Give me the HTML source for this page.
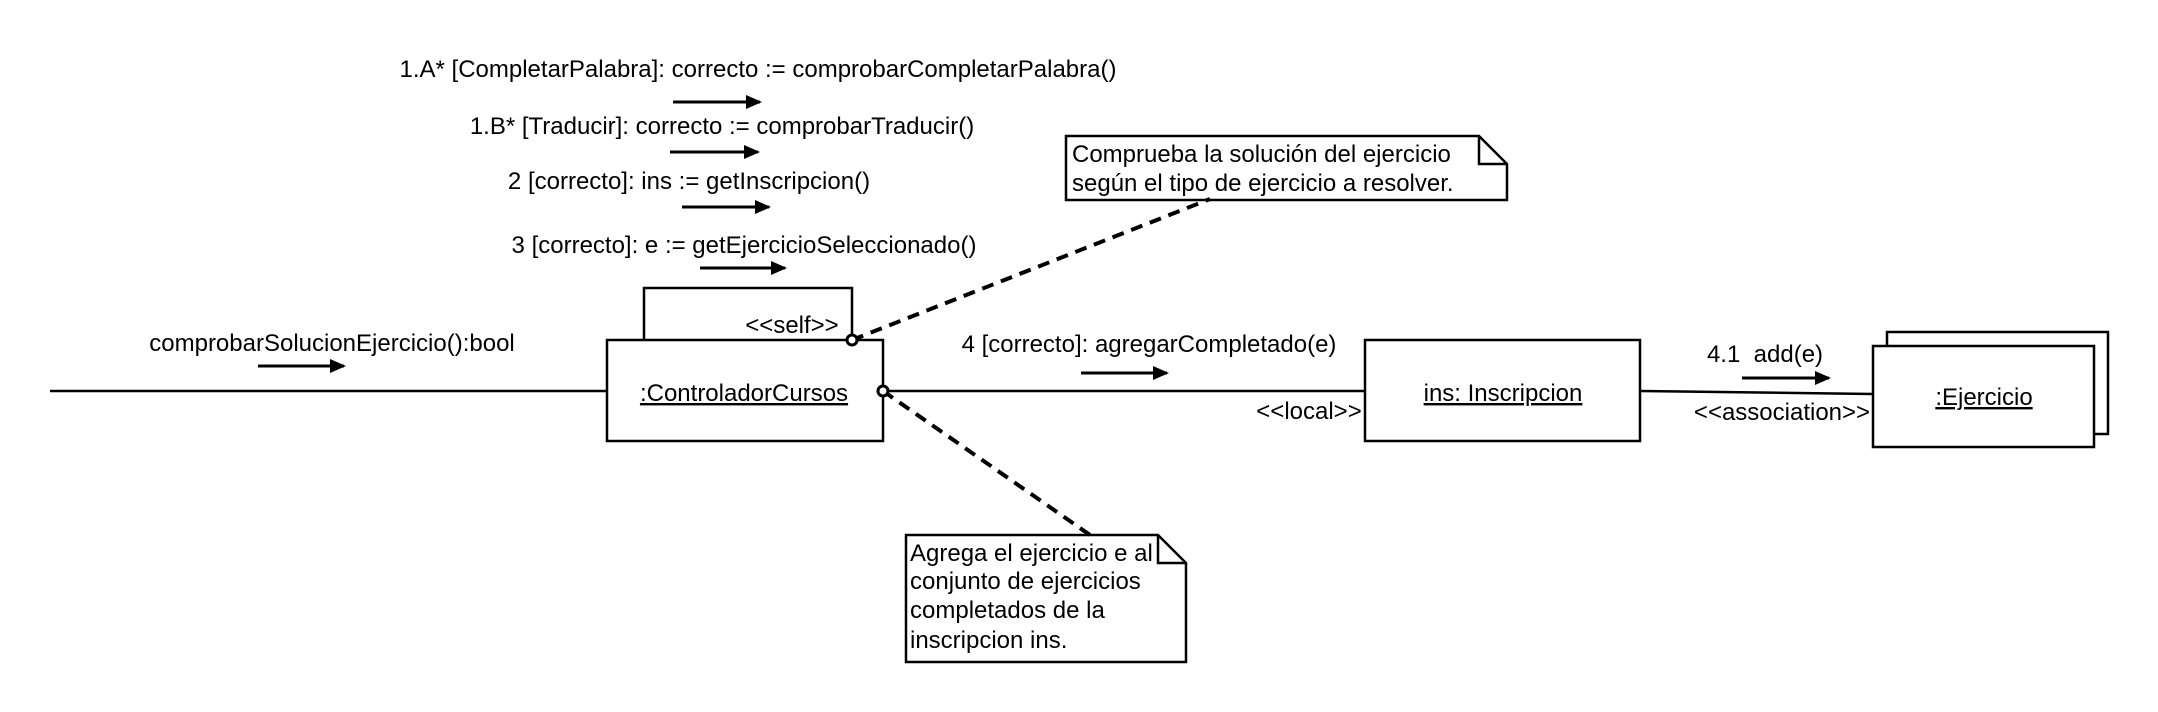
<!DOCTYPE html>
<html><head><meta charset="utf-8"><style>
html,body{margin:0;padding:0;background:#fff;}
svg{display:block;}
text{font-family:"Liberation Sans",Arial,sans-serif;font-size:24px;fill:#000;}
</style></head><body>
<svg width="2158" height="712" viewBox="0 0 2158 712" xmlns="http://www.w3.org/2000/svg">
<defs>
<marker id="ah" markerWidth="16" markerHeight="16" refX="14" refY="7" orient="auto" markerUnits="userSpaceOnUse"><path d="M0,0 L16,7 L0,14 z" fill="#000"/></marker>
</defs>
<g transform="translate(-3,0)">
<g stroke="#000" stroke-width="2.5" fill="none">
<line x1="53" y1="391" x2="610" y2="391"/>
<line x1="886" y1="391" x2="1368" y2="391"/>
<line x1="1643" y1="391" x2="1876" y2="394"/>
<polyline points="647,340 647,288 855,288 855,340"/>
<rect x="610" y="340" width="276" height="101" fill="#fff"/>
<rect x="1368" y="340" width="275" height="101" fill="#fff"/>
<rect x="1890" y="332" width="221" height="102" fill="#fff"/>
<rect x="1876" y="346" width="221" height="101" fill="#fff"/>
<path d="M1069,136 L1482,136 L1510,164 L1510,200 L1069,200 Z M1482,136 L1482,164 L1510,164" fill="#fff"/>
<path d="M909,535 L1161,535 L1189,563 L1189,662 L909,662 Z M1161,535 L1161,563 L1189,563" fill="#fff"/>
</g>
<g stroke="#000" stroke-width="4" stroke-dasharray="12,8" fill="none">
<line x1="855" y1="340" x2="1213" y2="199"/>
<line x1="886" y1="391" x2="1093" y2="535"/>
</g>
<circle cx="855" cy="340" r="5" fill="#fff" stroke="#000" stroke-width="3"/>
<circle cx="886" cy="391" r="5" fill="#fff" stroke="#000" stroke-width="3"/>
<g stroke="#000" stroke-width="3" marker-end="url(#ah)">
<line x1="676" y1="102" x2="763" y2="102"/>
<line x1="673" y1="152" x2="761" y2="152"/>
<line x1="685" y1="207" x2="772" y2="207"/>
<line x1="703" y1="268" x2="788" y2="268"/>
<line x1="261" y1="366" x2="347" y2="366"/>
<line x1="1084" y1="373" x2="1170" y2="373"/>
<line x1="1745" y1="378" x2="1832" y2="378"/>
</g>
<g text-anchor="middle">
<text x="761" y="77">1.A* [CompletarPalabra]: correcto := comprobarCompletarPalabra()</text>
<text x="725" y="134">1.B* [Traducir]: correcto := comprobarTraducir()</text>
<text x="692" y="189">2 [correcto]: ins := getInscripcion()</text>
<text x="747" y="253">3 [correcto]: e := getEjercicioSeleccionado()</text>
<text x="335" y="351">comprobarSolucionEjercicio():bool</text>
<text x="1152" y="352">4 [correcto]: agregarCompletado(e)</text>
<text x="1768" y="362">4.1&#160; add(e)</text>
<text x="1785" y="420">&lt;&lt;association&gt;&gt;</text>
<text x="1312" y="419">&lt;&lt;local&gt;&gt;</text>
<text x="795" y="333">&lt;&lt;self&gt;&gt;</text>
<text x="747" y="401" text-decoration="underline">:ControladorCursos</text>
<text x="1506" y="401" text-decoration="underline">ins: Inscripcion</text>
<text x="1987" y="405" text-decoration="underline">:Ejercicio</text>
</g>
<text x="1075" y="162">Comprueba la solución del ejercicio</text>
<text x="1075" y="191">según el tipo de ejercicio a resolver.</text>
<text x="913" y="561">Agrega el ejercicio e al</text>
<text x="913" y="589">conjunto de ejercicios</text>
<text x="913" y="618">completados de la</text>
<text x="913" y="648">inscripcion ins.</text>
</g>
</svg>
</body></html>
